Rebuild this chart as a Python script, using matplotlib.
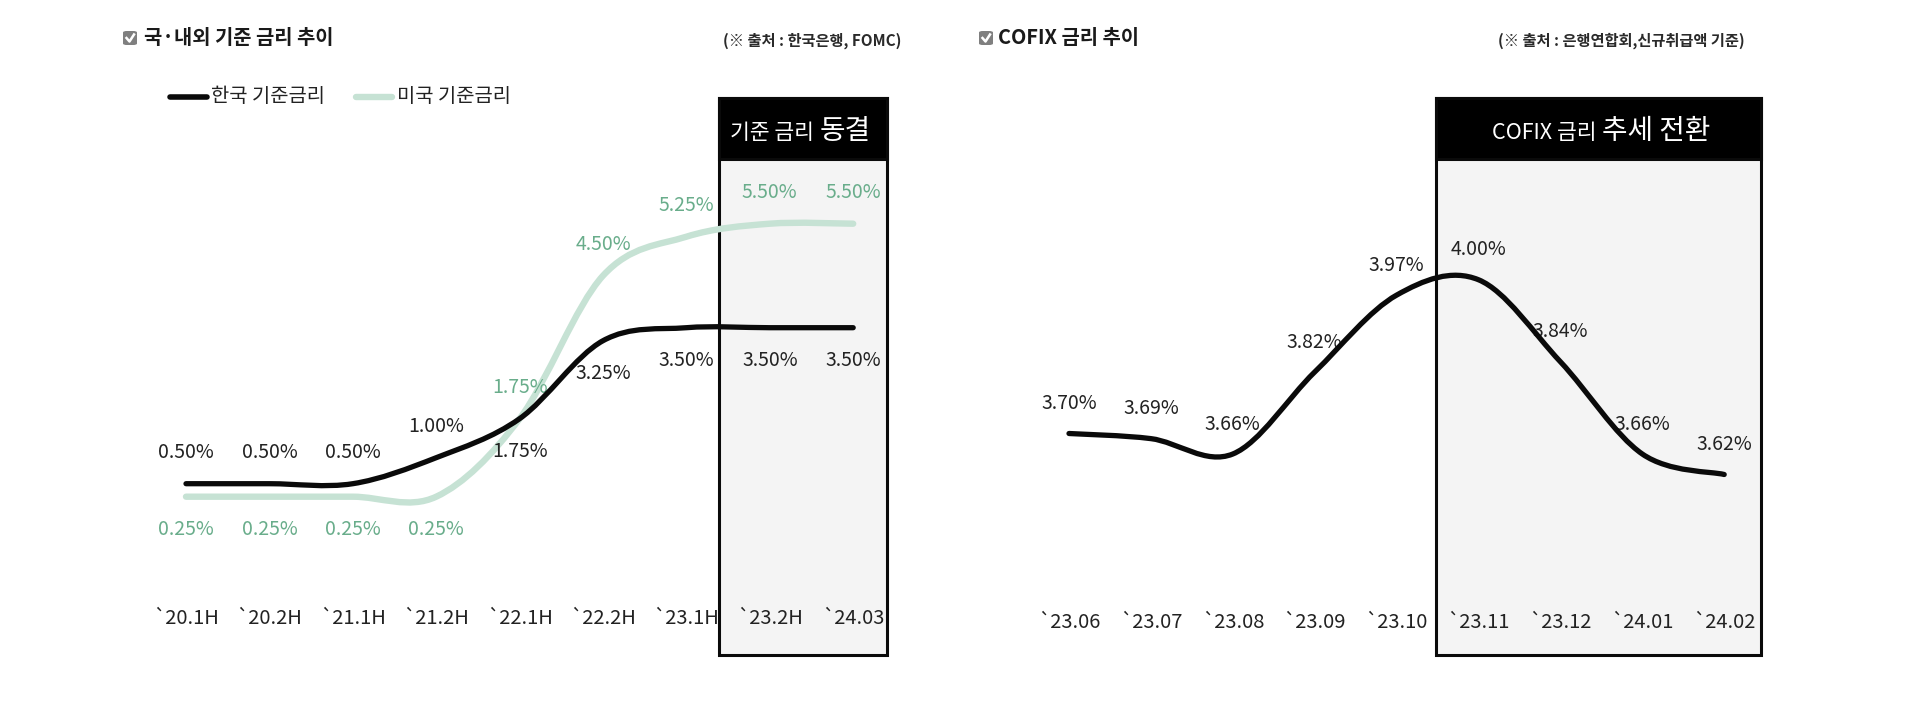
import matplotlib
matplotlib.use("Agg")
import matplotlib.pyplot as plt
import matplotlib.transforms as mtransforms
from matplotlib.path import Path
from matplotlib.patches import PathPatch, Rectangle, FancyBboxPatch
from matplotlib.lines import Line2D

plt.rcParams['font.family'] = ['Noto Sans CJK KR', 'DejaVu Sans']

# ---- data ----
rate_periods = ["`20.1H", "`20.2H", "`21.1H", "`21.2H", "`22.1H", "`22.2H", "`23.1H", "`23.2H", "`24.03"]
korea_rate = [0.50, 0.50, 0.50, 1.00, 1.75, 3.25, 3.50, 3.50, 3.50]
us_rate = [0.25, 0.25, 0.25, 0.25, 1.75, 4.50, 5.25, 5.50, 5.50]
# label above (+1) or below (-1) the point
korea_label_side = [1, 1, 1, 1, -1, -1, -1, -1, -1]
us_label_side = [-1, -1, -1, -1, 1, 1, 1, 1, 1]

cofix_months = ["`23.06", "`23.07", "`23.08", "`23.09", "`23.10", "`23.11", "`23.12", "`24.01", "`24.02"]
cofix_rate = [3.70, 3.69, 3.66, 3.82, 3.97, 4.00, 3.84, 3.66, 3.62]

W, H = 1920, 704
BLACK = "#0a0a0a"
TEXT = "#222222"
GREEN_LINE = "#c6e2d4"
GREEN_TEXT = "#69ad8b"
BOX_FILL = "#f4f4f4"

fig = plt.figure(figsize=(W / 100, H / 100), dpi=100)


def fx(px):
    return px / W


def fy(py):
    return 1 - py / H


def make_axes(left_px, right_px, x0_px, dx_px, v_ref, y_ref_px, px_per_unit):
    # axes covering a full-height strip; limits chosen so data map onto pixel layout
    ax = fig.add_axes([fx(left_px), 0, fx(right_px - left_px), 1])
    ax.set_xlim((left_px - x0_px) / dx_px, (right_px - x0_px) / dx_px)
    ax.set_ylim(v_ref - (H - y_ref_px) / px_per_unit, v_ref + y_ref_px / px_per_unit)
    ax.axis("off")
    ax.set_zorder(2)
    ax.patch.set_alpha(0)
    return ax


def smooth_line(ax, xs, ys, color, lw, zorder=3):
    # Excel-style smoothed line: cubic bezier through the points
    n = len(xs)
    verts = [(xs[0], ys[0])]
    codes = [Path.MOVETO]
    for i in range(n - 1):
        xp, yp = (xs[i - 1], ys[i - 1]) if i > 0 else (xs[i], ys[i])
        xn2, yn2 = (xs[i + 2], ys[i + 2]) if i + 2 < n else (xs[i + 1], ys[i + 1])
        c1 = (xs[i] + (xs[i + 1] - xp) / 6, ys[i] + (ys[i + 1] - yp) / 6)
        c2 = (xs[i + 1] - (xn2 - xs[i]) / 6, ys[i + 1] - (yn2 - ys[i]) / 6)
        verts += [c1, c2, (xs[i + 1], ys[i + 1])]
        codes += [Path.CURVE4] * 3
    ax.add_patch(PathPatch(Path(verts, codes), facecolor="none", edgecolor=color,
                           lw=lw, capstyle="round", joinstyle="round", zorder=zorder))


def checkbox(px, py):
    fig.patches.append(FancyBboxPatch((fx(px), fy(py + 7)), fx(14), 14 / H,
                                      boxstyle="round,pad=0,rounding_size=0.002",
                                      transform=fig.transFigure, facecolor="#7f7f7f",
                                      edgecolor="none"))
    fig.lines.append(Line2D([fx(px + 3.5), fx(px + 6.5), fx(px + 11)],
                            [fy(py), fy(py + 3.5), fy(py - 3.5)],
                            transform=fig.transFigure, color="white", lw=1.8))


def highlight_box(left, right, top, bottom, head_bottom):
    fig.patches.append(Rectangle((fx(left), fy(bottom)), fx(right - left), (bottom - top) / H,
                                 transform=fig.transFigure, facecolor=BOX_FILL,
                                 edgecolor=BLACK, lw=2.2, zorder=-1))
    fig.patches.append(Rectangle((fx(left), fy(head_bottom)), fx(right - left), (head_bottom - top) / H,
                                 transform=fig.transFigure, facecolor="black",
                                 edgecolor=BLACK, lw=2.2, zorder=-1))


highlight_box(719, 887, 98, 655, 159)
highlight_box(1436, 1761, 98, 655, 159)

# ---------------- left panel ----------------
ax1 = make_axes(0, 960, 186, 83.4, 0.5, 483.7, 52.0)
idx = list(range(len(rate_periods)))
smooth_line(ax1, idx, us_rate, GREEN_LINE, 4.6, zorder=3)
smooth_line(ax1, idx, korea_rate, BLACK, 3.8, zorder=4)

for i, v, s in zip(idx, korea_rate, korea_label_side):
    ax1.annotate(f"{v:.2f}%", (i, v), xytext=(0, 31 if s > 0 else -33), textcoords="offset pixels",
                 ha="center", va="center", fontsize=14, color=TEXT)
for i, v, s in zip(idx, us_rate, us_label_side):
    ax1.annotate(f"{v:.2f}%", (i, v), xytext=(0, 31 if s > 0 else -33), textcoords="offset pixels",
                 ha="center", va="center", fontsize=14, color=GREEN_TEXT)

tr1 = mtransforms.blended_transform_factory(ax1.transData, fig.transFigure)
for i, lab in zip(idx, rate_periods):
    ax1.text(i, fy(618), lab, transform=tr1, ha="center", va="center", fontsize=14.5, color=TEXT)

# legend
fig.lines.append(Line2D([fx(170), fx(207)], [fy(97), fy(97)], transform=fig.transFigure,
                        color=BLACK, lw=4, solid_capstyle="round"))
fig.text(fx(211), fy(97), "한국 기준금리", ha="left", va="center", fontsize=14.3, color=TEXT)
fig.lines.append(Line2D([fx(356), fx(392)], [fy(97), fy(97)], transform=fig.transFigure,
                        color=GREEN_LINE, lw=4.6, solid_capstyle="round"))
fig.text(fx(397), fy(97), "미국 기준금리", ha="left", va="center", fontsize=14.3, color=TEXT)

checkbox(123, 38)
fig.text(fx(144), fy(38), "국·내외 기준 금리 추이", ha="left", va="center", fontsize=14.3,
         fontweight="bold", color="#1a1a1a")
fig.text(fx(901), fy(41), "(※ 출처 : 한국은행, FOMC)", ha="right", va="center", fontsize=11,
         fontweight="bold", color="#2a2a2a")

fig.text(fx(814), fy(139), "기준 금리", ha="right", va="baseline", fontsize=15.5, color="white")
fig.text(fx(820), fy(139), "동결", ha="left", va="baseline", fontsize=20, color="white")

# ---------------- right panel ----------------
ax2 = make_axes(960, 1920, 1069, 81.9, 3.70, 433.5, 512.5)
idx2 = list(range(len(cofix_months)))
smooth_line(ax2, idx2, cofix_rate, BLACK, 3.8, zorder=4)
for i, v in zip(idx2, cofix_rate):
    ax2.annotate(f"{v:.2f}%", (i, v), xytext=(0, 30), textcoords="offset pixels",
                 ha="center", va="center", fontsize=14, color=TEXT)

tr2 = mtransforms.blended_transform_factory(ax2.transData, fig.transFigure)
for i, lab in zip(idx2, cofix_months):
    ax2.text(i, fy(622), lab, transform=tr2, ha="center", va="center", fontsize=14.5, color=TEXT)

checkbox(979, 38)
fig.text(fx(998), fy(38), "COFIX 금리 추이", ha="left", va="center", fontsize=14.3,
         fontweight="bold", color="#1a1a1a")
fig.text(fx(1745), fy(41), "(※ 출처 : 은행연합회,신규취급액 기준)", ha="right", va="center",
         fontsize=11, fontweight="bold", color="#2a2a2a")

fig.text(fx(1596), fy(139), "COFIX 금리", ha="right", va="baseline", fontsize=15.5, color="white")
fig.text(fx(1602), fy(139), "추세 전환", ha="left", va="baseline", fontsize=20, color="white")

fig.savefig("out.png", dpi=100, facecolor="white")
